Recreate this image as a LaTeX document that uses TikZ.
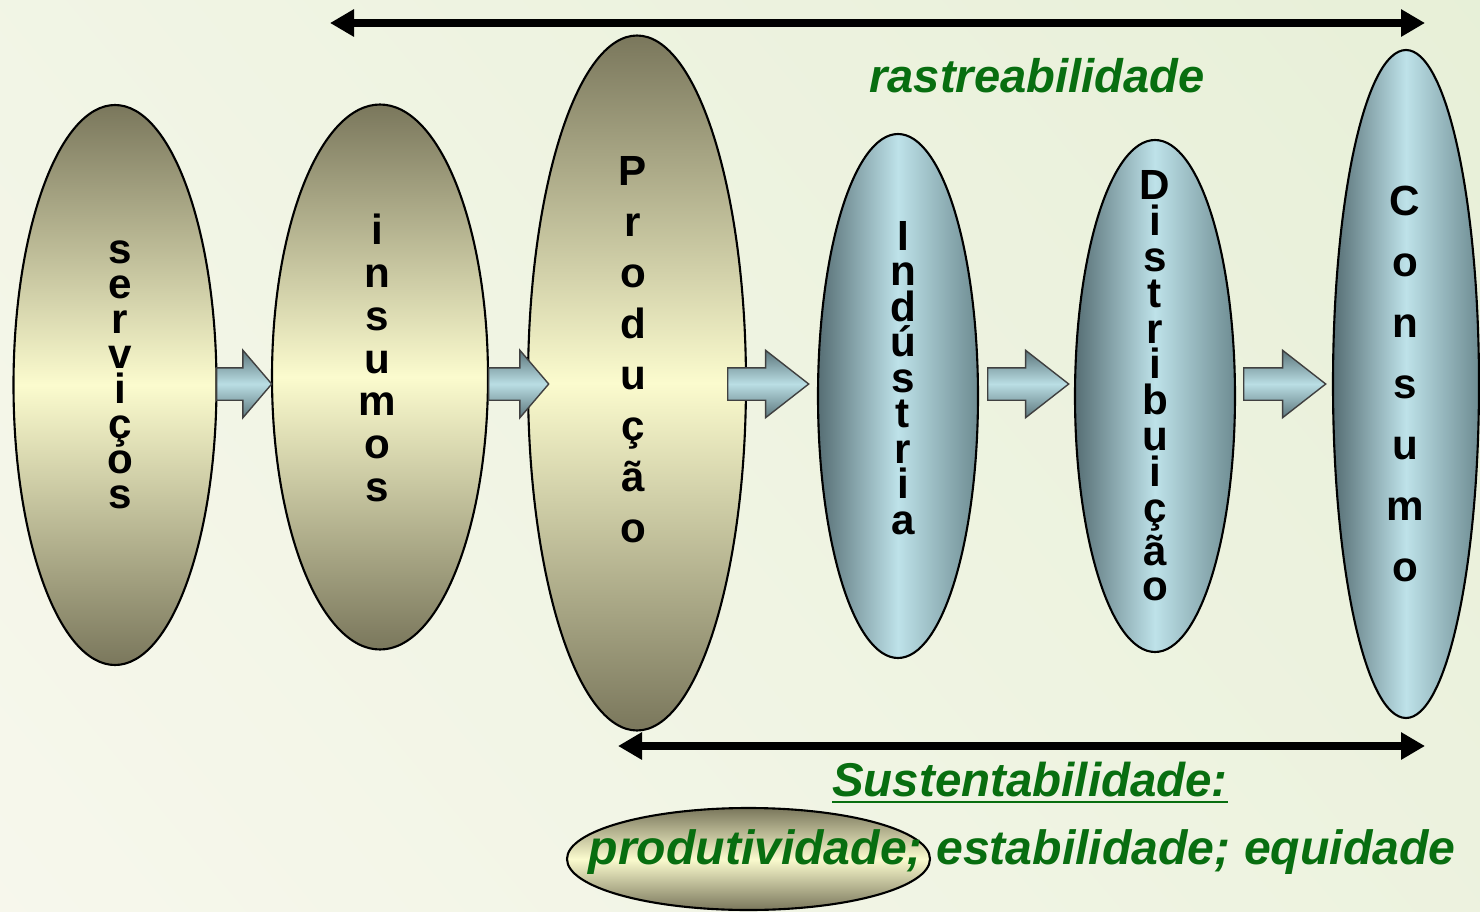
\documentclass[tikz,border=0pt]{standalone}
\usepackage{fontspec}
\setmainfont{Liberation Sans}
\usetikzlibrary{shapes.geometric,shapes.arrows,arrows.meta}

\definecolor{olivedark}{RGB}{122,119,92}
\definecolor{olivelight}{RGB}{251,251,206}
\definecolor{bluedark}{RGB}{86,110,116}
\definecolor{bluemid}{RGB}{110,140,146}
\definecolor{bluelight}{RGB}{190,226,233}
\definecolor{arrowdark}{RGB}{92,118,124}
\definecolor{arrowlight}{RGB}{186,222,228}
\definecolor{textgreen}{RGB}{8,110,16}
\definecolor{bgtop}{RGB}{230,239,214}
\definecolor{bgbottom}{RGB}{248,248,238}

\begin{document}
\begin{tikzpicture}[
    stage/.style={ellipse, draw, line width=0.6pt, inner sep=0pt},
    olivefill/.style={top color=olivedark, bottom color=olivedark, middle color=olivelight},
    bluefill/.style={left color=bluedark, right color=bluemid, middle color=bluelight},
    letters/.style={align=center, inner sep=0pt, font={\bfseries\fontsize{12pt}{#1}\selectfont}},
    flow/.style={single arrow, draw=black!75, line width=0.4pt, inner xsep=0pt, inner ysep=0.155cm,
        single arrow head extend=0.175cm,
        top color=arrowdark, bottom color=arrowdark, middle color=arrowlight},
    greentext/.style={text=textgreen, inner sep=0pt, font={\bfseries\itshape\fontsize{#1}{#1}\selectfont}},
    >={Triangle[length=0.24cm,width=0.26cm]}
]
    \useasboundingbox (0,0) rectangle (14.8,9.11);
    \clip (0,0) rectangle (14.8,9.11);
    \shade[top color=bgtop, bottom color=bgbottom, shading angle=-50] (-4,-4) rectangle (18.8,13.11);

    % the chain
    \node[stage, olivefill, minimum width=2.03cm, minimum height=5.60cm] (serv) at (1.15,5.26) {};
    \node[stage, olivefill, minimum width=2.16cm, minimum height=5.45cm] (ins) at (3.80,5.34) {};
    \node[stage, olivefill, minimum width=2.18cm, minimum height=6.95cm] (prod) at (6.37,5.28) {};
    \node[stage, bluefill, minimum width=1.60cm, minimum height=5.24cm] (ind) at (8.98,5.15) {};
    \node[stage, bluefill, minimum width=1.60cm, minimum height=5.12cm] (dist) at (11.55,5.15) {};
    \node[stage, bluefill, minimum width=1.46cm, minimum height=6.68cm] (cons) at (14.06,5.27) {};

    \node[letters=9.96pt] (serv-t) at (1.20,5.36) {s\\e\\r\\v\\i\\ç\\o\\s};
    \node[letters=12.2pt] (ins-t) at (3.77,5.53) {i\\n\\s\\u\\m\\o\\s};
    \node[letters=14.5pt] (prod-t) at (6.33,5.61) {P\\r\\o\\d\\u\\ç\\ã\\o};
    \node[letters=10.1pt] (ind-t) at (9.03,5.33) {I\\n\\d\\ú\\s\\t\\r\\i\\a};
    \node[letters=10.2pt] (dist-t) at (11.55,5.25) {D\\i\\s\\t\\r\\i\\b\\u\\i\\ç\\ã\\o};
    \node[letters=17.4pt] (cons-t) at (14.05,5.27) {C\\o\\n\\s\\u\\m\\o};

    % block arrows
    \foreach \tx/\len/\ang [count=\i] in {2.16/0.55/99, 4.88/0.60/99, 7.27/0.81/76, 9.87/0.81/76, 12.43/0.82/76}
        \node[flow, anchor=tail, minimum height=\len cm, single arrow tip angle=\ang] (flow\i) at (\tx,5.27) {};

    % traceability and sustainability
    \coordinate (rA) at (3.30,8.88);
    \coordinate (rB) at (14.25,8.88);
    \draw[<->, line width=2pt] (rA) -- (rB);
    \node[greentext=13.4pt] (rast) at (10.37,8.35) {rastreabilidade};

    \coordinate (sA) at (6.18,1.65);
    \coordinate (sB) at (14.25,1.65);
    \draw[<->, line width=2pt] (sA) -- (sB);
    \node[greentext=13.5pt] (sust) at (10.30,1.28) {\underline{Sustentabilidade:}};

    \node[stage, olivefill, minimum width=3.63cm, minimum height=1.02cm] (prodv) at (7.485,0.52) {};
    \node[greentext=13.7pt] (pilares) at (10.22,0.59) {produtividade; estabilidade; equidade};
\end{tikzpicture}
\end{document}
